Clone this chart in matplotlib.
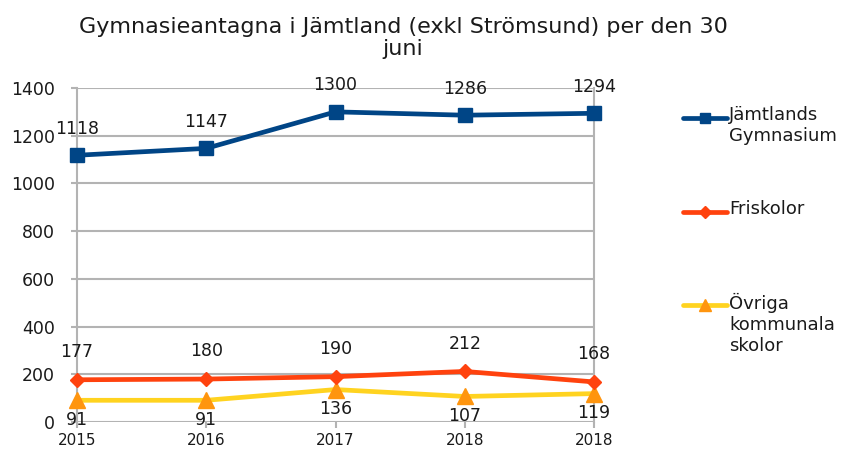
import matplotlib
matplotlib.use("Agg")
import matplotlib.pyplot as plt
from matplotlib.lines import Line2D

years = ["2015", "2016", "2017", "2018", "2018"]
jamtlands = [1118, 1147, 1300, 1286, 1294]
friskolor = [177, 180, 190, 212, 168]
ovriga = [91, 91, 136, 107, 119]
yticks = [0, 200, 400, 600, 800, 1000, 1200, 1400]

title = "Gymnasieantagna i Jämtland (exkl Strömsund) per den 30\njuni"
names = ["Jämtlands\nGymnasium", "Friskolor", "Övriga\nkommunala\nskolor"]

c_blue = "#004586"
c_orange = "#ff420e"
c_yellow = "#ffd320"
c_tri = "#ff950e"
c_grid = "#b3b3b3"
c_text = "#1a1a1a"

plt.rcParams["font.family"] = ["DejaVu Sans"]
fig = plt.figure(figsize=(8.43, 4.5), dpi=100)
ax = fig.add_axes([77 / 843, 28 / 450, (594 - 77) / 843, (422 - 88) / 450])

x = list(range(len(years)))
ax.plot(x, jamtlands, color=c_blue, lw=3.4, marker="s", ms=10, zorder=4, clip_on=False)
ax.plot(x, friskolor, color=c_orange, lw=3.4, marker="D", ms=7, zorder=4, clip_on=False)
ax.plot(x, ovriga, color=c_yellow, lw=3.4, marker="^", ms=11, mfc=c_tri, mec=c_tri,
        zorder=3, clip_on=False)

fs = 12.5
for xi, v in zip(x, jamtlands):
    ax.annotate(str(v), (xi, v), xytext=(0, 19), textcoords="offset points",
                ha="center", va="center", fontsize=fs, color=c_text, zorder=6)
for xi, v in zip(x, friskolor):
    ax.annotate(str(v), (xi, v), xytext=(0, 20), textcoords="offset points",
                ha="center", va="center", fontsize=fs, color=c_text, zorder=6)
for xi, v in zip(x, ovriga):
    ax.annotate(str(v), (xi, v), xytext=(0, -14), textcoords="offset points",
                ha="center", va="center", fontsize=fs, color=c_text, zorder=6)

ax.set_xlim(0, len(years) - 1)
ax.set_ylim(0, 1400)
ax.set_yticks(yticks)
ax.set_xticks(x)
ax.set_xticklabels(years)
ax.grid(True, axis="y", color=c_grid, lw=1.5)
ax.set_axisbelow(True)
ax.spines["top"].set_visible(False)
ax.spines["bottom"].set_visible(False)
for side in ("left", "right"):
    ax.spines[side].set_color(c_grid)
    ax.spines[side].set_linewidth(1.5)
ax.tick_params(axis="y", length=4, color=c_grid, width=1.5, pad=12, labelsize=fs,
               labelcolor=c_text)
ax.tick_params(axis="x", length=4, color=c_grid, width=1.5, pad=4, labelsize=11,
               labelcolor=c_text)

fig.text(0.478, 0.915, title, ha="center", va="center", fontsize=16,
         color=c_text, linespacing=1.15)

# legend
leg_y = [118, 212, 305]
styles = [(c_blue, "s", c_blue, 7), (c_orange, "D", c_orange, 6), (c_yellow, "^", c_tri, 9)]
for name, yy, (lc, mk, mc, ms) in zip(names, leg_y, styles):
    yf = 1 - yy / 450
    fig.add_artist(Line2D([683 / 843, 727 / 843], [yf, yf], color=lc, lw=3.4,
                          solid_capstyle="round", transform=fig.transFigure))
    fig.add_artist(Line2D([705 / 843], [yf], marker=mk, ms=ms, color=mc, mfc=mc, mec=mc,
                          transform=fig.transFigure))
    fig.text(729 / 843, yf + 12 / 450, name, ha="left", va="top", fontsize=13,
             color=c_text, linespacing=1.2)

fig.savefig("out.png", dpi=100)
